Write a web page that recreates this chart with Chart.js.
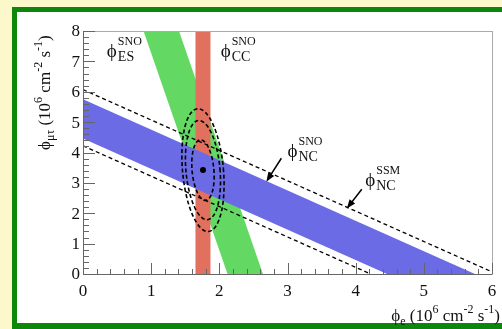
<!DOCTYPE html>
<html>
<head>
<meta charset="utf-8">
<script src="https://cdn.jsdelivr.net/npm/chart.js@4.4.1/dist/chart.umd.min.js"></script>
<style>
    html, body { margin: 0; padding: 0; overflow: hidden; background: #fff; }
    #fluxChart { display: block; }
</style>
</head>
<body>
<canvas id="fluxChart" width="502" height="329"></canvas>
<script>
// axis ticks (10^6 cm^-2 s^-1)
const xTicks = [0, 1, 2, 3, 4, 5, 6];
const yTicks = [0, 1, 2, 3, 4, 5, 6, 7, 8];

// band limits: phi_e + phi_mt inside ncBand, SSM prediction lines, ES band uses phi_e + 0.154 phi_mt
const ncBand = [4.46, 5.75];
const ssmLines = [4.22, 6.07];
const esBand = [2.12, 2.64];
const esWeight = 0.154;
const ccBand = [1.65, 1.87];

// best fit point and 68/95/99% contours
const bestFit = [1.76, 3.42];
const contourRx = [0.16, 0.25, 0.30];
const contourRy = [1.0, 1.64, 2.03];

// label anchors and pointer arrows
const labelEs = [0.35, 7.31];
const labelCc = [2.02, 7.31];
const labelNc = [3.0, 4.02];
const labelSsm = [4.14, 3.06];
const arrowNc = [[2.91, 3.81], [2.69, 3.04]];
const arrowSsm = [[4.09, 2.79], [3.87, 2.16]];

const SERIF = '"Liberation Serif", "DejaVu Serif", serif';
const PHI = '\u03d5';
const yMax = yTicks[yTicks.length - 1];

const ncShape = [
    { x: 0, y: ncBand[0] }, { x: 0, y: ncBand[1] },
    { x: ncBand[1], y: 0 }, { x: ncBand[0], y: 0 }, { x: 0, y: ncBand[0] }
];
const ccShape = [
    { x: ccBand[0], y: 0 }, { x: ccBand[0], y: yMax },
    { x: ccBand[1], y: yMax }, { x: ccBand[1], y: 0 }, { x: ccBand[0], y: 0 }
];
const esShape = [
    { x: esBand[0], y: 0 }, { x: esBand[0] - esWeight * yMax, y: yMax },
    { x: esBand[1] - esWeight * yMax, y: yMax }, { x: esBand[1], y: 0 }, { x: esBand[0], y: 0 }
];

const band = (data, color) => ({
    data, fill: 'shape', backgroundColor: color, borderWidth: 0, pointRadius: 0, tension: 0
});
const dashed = (v) => ({
    data: [{ x: 0, y: v }, { x: v, y: 0 }], fill: false, borderColor: '#000',
    borderWidth: 1.3, borderDash: [4, 3], pointRadius: 0
});

// draw a run of text pieces with their own size and vertical shift
function richWidth(ctx, parts) {
    let w = 0;
    parts.forEach(p => { ctx.font = p.size + 'px ' + SERIF; w += ctx.measureText(p.t).width; });
    return w;
}
function drawRich(ctx, x, y, parts) {
    parts.forEach(p => {
        ctx.font = p.size + 'px ' + SERIF;
        ctx.fillText(p.t, x, y + (p.dy || 0));
        x += ctx.measureText(p.t).width;
    });
}
function fluxLabel(ctx, px, py, sup, sub) {
    ctx.font = '19px ' + SERIF;
    ctx.fillText(PHI, px, py);
    const w = ctx.measureText(PHI).width + 1;
    ctx.font = '12px ' + SERIF;
    ctx.fillText(sup, px + w, py - 10);
    ctx.font = '14px ' + SERIF;
    ctx.fillText(sub, px + w, py + 5);
}
function arrow(ctx, x0, y0, x1, y1) {
    const a = Math.atan2(y1 - y0, x1 - x0);
    ctx.beginPath();
    ctx.moveTo(x0, y0);
    ctx.lineTo(x1 - 6 * Math.cos(a), y1 - 6 * Math.sin(a));
    ctx.stroke();
    ctx.beginPath();
    ctx.moveTo(x1, y1);
    ctx.lineTo(x1 - 9 * Math.cos(a) + 3.5 * Math.sin(a), y1 - 9 * Math.sin(a) - 3.5 * Math.cos(a));
    ctx.lineTo(x1 - 9 * Math.cos(a) - 3.5 * Math.sin(a), y1 - 9 * Math.sin(a) + 3.5 * Math.cos(a));
    ctx.closePath();
    ctx.fill();
}

// yellow page with the green-framed white panel behind the plot
const panel = {
    id: 'panel',
    beforeDraw(chart) {
        const ctx = chart.ctx;
        ctx.save();
        ctx.fillStyle = '#fdf8cc';
        ctx.fillRect(0, 0, 502, 7);
        ctx.fillRect(0, 0, 12, 329);
        ctx.fillStyle = '#0c870c';
        ctx.fillRect(12, 7, 490, 5);
        ctx.fillRect(12, 7, 5, 322);
        ctx.fillRect(12, 323, 490, 6);
        ctx.fillStyle = '#fff';
        ctx.fillRect(17, 12, 485, 311);
        ctx.restore();
    }
};

const overlay = {
    id: 'overlay',
    afterDatasetsDraw(chart) {
        const { ctx, chartArea: area, scales: { x, y } } = chart;
        ctx.save();
        ctx.fillStyle = '#000';
        ctx.strokeStyle = '#000';

        // contours
        ctx.lineWidth = 1.6;
        ctx.setLineDash([4, 2.5]);
        const cx = x.getPixelForValue(bestFit[0]);
        const cy = y.getPixelForValue(bestFit[1]);
        contourRx.forEach((rx, i) => {
            const w = x.getPixelForValue(bestFit[0] + rx) - cx;
            const h = cy - y.getPixelForValue(bestFit[1] + contourRy[i]);
            ctx.beginPath();
            ctx.ellipse(cx, cy, w, h, -0.09, 0, Math.PI * 2);
            ctx.stroke();
        });
        ctx.setLineDash([]);
        ctx.beginPath();
        ctx.arc(cx, cy, 3, 0, Math.PI * 2);
        ctx.fill();

        // pointers
        ctx.lineWidth = 1.5;
        [arrowNc, arrowSsm].forEach(a => arrow(ctx,
            x.getPixelForValue(a[0][0]), y.getPixelForValue(a[0][1]),
            x.getPixelForValue(a[1][0]), y.getPixelForValue(a[1][1])));

        // frame
        ctx.lineWidth = 1;
        ctx.strokeStyle = '#aaa';
        ctx.strokeRect(area.left + 0.5, area.top + 0.5, area.right - area.left, area.bottom - area.top);
        ctx.strokeStyle = '#666';
        ctx.beginPath();
        ctx.moveTo(area.left + 0.5, area.top);
        ctx.lineTo(area.left + 0.5, area.bottom + 0.5);
        ctx.lineTo(area.right, area.bottom + 0.5);
        ctx.stroke();

        // inward ticks, minor every 0.2
        ctx.beginPath();
        for (let k = 0; k <= yMax * 5; k++) {
            const py = Math.round(y.getPixelForValue(k / 5)) + 0.5;
            ctx.moveTo(area.left, py);
            ctx.lineTo(area.left + (k % 5 === 0 ? 12 : 6), py);
        }
        for (let k = 0; k <= xTicks[xTicks.length - 1] * 5; k++) {
            const px = Math.round(x.getPixelForValue(k / 5)) + 0.5;
            ctx.moveTo(px, area.bottom);
            ctx.lineTo(px, area.bottom - (k % 5 === 0 ? 11 : 5));
        }
        ctx.stroke();

        // tick labels
        ctx.fillStyle = '#111';
        ctx.font = '17px ' + SERIF;
        ctx.textBaseline = 'middle';
        ctx.textAlign = 'right';
        yTicks.forEach(v => ctx.fillText(String(v), area.left - 3, y.getPixelForValue(v) + 1));
        ctx.textAlign = 'center';
        xTicks.forEach(v => ctx.fillText(String(v), x.getPixelForValue(v), area.bottom + 18));

        // band labels
        ctx.textAlign = 'left';
        [[labelEs, 'SNO', 'ES'], [labelCc, 'SNO', 'CC'], [labelNc, 'SNO', 'NC'], [labelSsm, 'SSM', 'NC']]
            .forEach(([p, sup, sub]) => fluxLabel(ctx, x.getPixelForValue(p[0]), y.getPixelForValue(p[1]), sup, sub));

        // axis titles
        ctx.textBaseline = 'alphabetic';
        const unit = [
            { t: ' (10', size: 17 }, { t: '6', size: 12, dy: -8 }, { t: ' cm', size: 17 },
            { t: '-2', size: 12, dy: -8 }, { t: ' s', size: 17 }, { t: '-1', size: 12, dy: -8 }, { t: ')', size: 17 }
        ];
        const xTitle = [{ t: PHI, size: 17 }, { t: 'e', size: 12, dy: 4 }].concat(unit);
        drawRich(ctx, 500 - richWidth(ctx, xTitle), 321, xTitle);

        const yTitle = [{ t: PHI, size: 17 }, { t: '\u03bc\u03c4', size: 12, dy: 4 }].concat(unit);
        ctx.translate(50, 150);
        ctx.rotate(-Math.PI / 2);
        drawRich(ctx, 0, 0, yTitle);
        ctx.restore();
    }
};

new Chart(document.getElementById('fluxChart'), {
    type: 'line',
    data: {
        datasets: [
            dashed(ssmLines[1]),
            dashed(ssmLines[0]),
            band(ncShape, '#6b6be6'),
            band(ccShape, '#e2705f'),
            band(esShape, '#63d963')
        ]
    },
    options: {
        responsive: false,
        animation: false,
        devicePixelRatio: 1,
        layout: { padding: { left: 83, top: 31, right: 10, bottom: 55 } },
        plugins: { legend: { display: false }, tooltip: { enabled: false } },
        scales: {
            x: {
                type: 'linear', min: 0, max: 6,
                ticks: { display: false }, grid: { display: false, drawTicks: false }, border: { display: false }
            },
            y: {
                type: 'linear', min: 0, max: yMax,
                ticks: { display: false }, grid: { display: false, drawTicks: false }, border: { display: false }
            }
        }
    },
    plugins: [panel, overlay]
});
</script>
</body>
</html>
